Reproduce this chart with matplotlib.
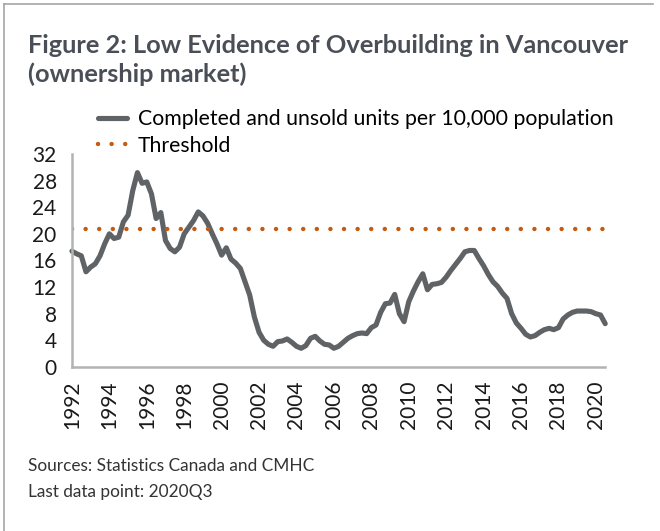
import matplotlib.pyplot as plt
from matplotlib.lines import Line2D

# quarterly data, 1992Q1 .. 2020Q3
unsold_per_10k = [
    17.4, 17.0, 16.7, 14.3, 15.0, 15.5, 16.7, 18.5, 20.0, 19.3,
    19.5, 21.8, 22.8, 26.5, 29.2, 27.6, 27.8, 26.0, 22.3, 23.2,
    19.0, 17.8, 17.3, 18.0, 20.0, 21.0, 22.0, 23.3, 22.7, 21.6,
    20.0, 18.5, 16.8, 17.9, 16.2, 15.6, 14.8, 12.8, 10.8, 7.5,
    5.2, 4.0, 3.4, 3.1, 3.8, 3.9, 4.2, 3.7, 3.1, 2.8,
    3.2, 4.3, 4.6, 3.9, 3.4, 3.3, 2.8, 3.1, 3.7, 4.3,
    4.7, 5.0, 5.1, 5.0, 5.9, 6.3, 8.2, 9.5, 9.6, 10.9,
    8.0, 6.8, 9.8, 11.4, 12.8, 14.0, 11.6, 12.4, 12.5, 12.7,
    13.5, 14.5, 15.4, 16.3, 17.3, 17.5, 17.5, 16.3, 15.2, 13.9,
    12.8, 12.1, 11.1, 10.3, 8.0, 6.6, 5.8, 4.9, 4.5, 4.7,
    5.2, 5.6, 5.8, 5.6, 5.9, 7.2, 7.8, 8.2, 8.4, 8.4,
    8.4, 8.3, 8.0, 7.8, 6.5,
]
threshold = 20.7
year_labels = [str(y) for y in range(1992, 2021, 2)]

plt.rcParams['font.family'] = ['Lato', 'DejaVu Sans']

fig = plt.figure(figsize=(6.6, 5.31), dpi=100)
ax = fig.add_axes([0.109, 0.309, 0.808, 0.401])

x = list(range(len(unsold_per_10k)))
ax.plot(x, unsold_per_10k, color='#606366', lw=3.7, solid_joinstyle='round',
        solid_capstyle='round', clip_on=False,
        label='Completed and unsold units per 10,000 population')
ax.plot([0, len(x) - 1], [threshold, threshold], color='#c55a11', lw=3.2,
        linestyle=(0, (0.01, 3.05)), dash_capstyle='round', label='Threshold')

ax.set_xlim(0, len(x) - 1)
ax.set_ylim(0, 32)
ax.set_yticks(range(0, 33, 4))
ax.set_xticks(range(0, len(x), 8))
ax.set_xticklabels(year_labels, rotation=90)
ax.tick_params(length=0, labelsize=15, colors='#1a1a1a')
ax.tick_params(axis='x', pad=10)
ax.tick_params(axis='y', pad=11)
for side in ['top', 'right']:
    ax.spines[side].set_visible(False)
for side in ['left', 'bottom']:
    ax.spines[side].set_color('#b3b3b3')
    ax.spines[side].set_linewidth(1.8)

fig.legend(loc='upper left', bbox_to_anchor=(0.148, 0.794), frameon=False,
           fontsize=15.3, handlelength=1.4, handletextpad=0.5,
           labelspacing=0.3, borderpad=0, borderaxespad=0)

fig.text(0.042, 0.887, 'Figure 2: Low Evidence of Overbuilding in Vancouver\n(ownership market)',
         fontsize=18.3, fontweight='bold', color='#4a4f57', va='center',
         linespacing=1.32)
fig.text(0.042, 0.122, 'Sources: Statistics Canada and CMHC', fontsize=12.4,
         color='#333333', va='center')
fig.text(0.042, 0.073, 'Last data point: 2020Q3', fontsize=12.4,
         color='#333333', va='center')

# grey frame along top and left edges
fig.add_artist(Line2D([0.006, 0.006], [0.0, 0.992], color='#a6a6a6', lw=1.2))
fig.add_artist(Line2D([0.006, 0.99], [0.992, 0.992], color='#a6a6a6', lw=1.2))

fig.savefig('out.png', dpi=100)
